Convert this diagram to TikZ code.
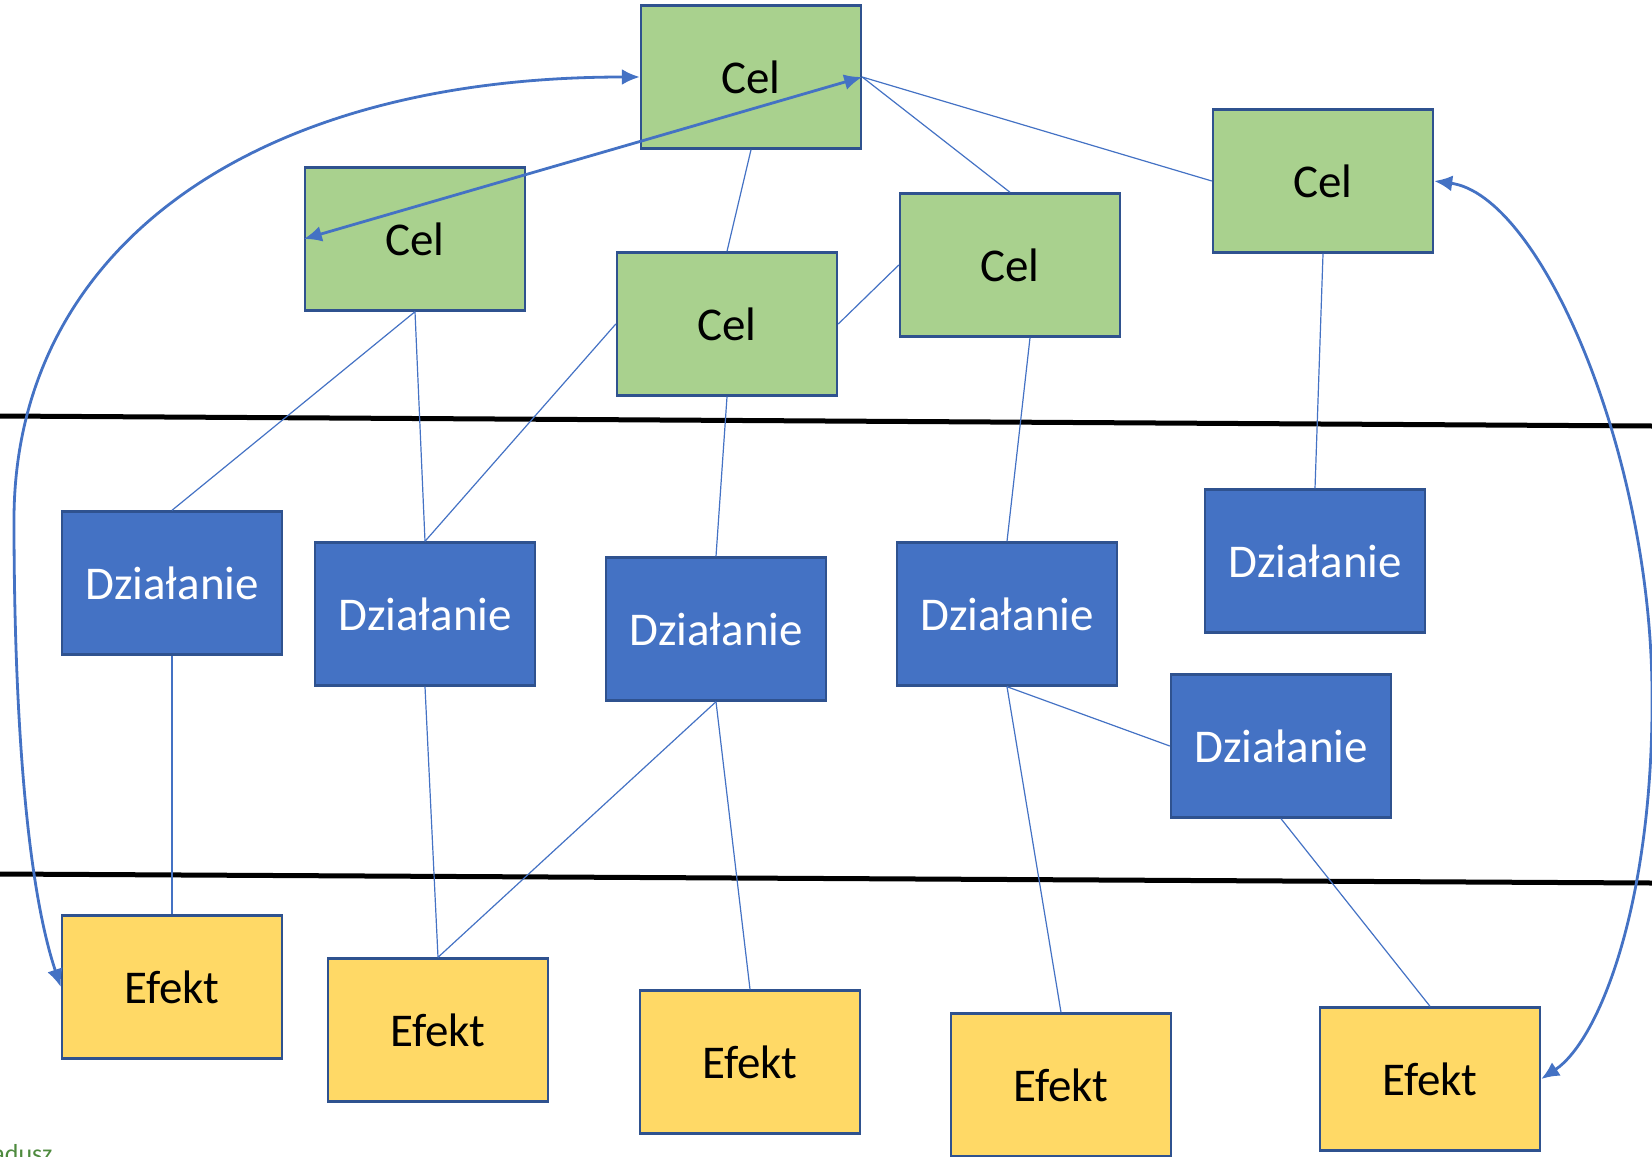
\documentclass[tikz,border=0pt]{standalone}
\usepackage{fontspec}
\setmainfont{Carlito}
\usetikzlibrary{arrows.meta}
\definecolor{celgreen}{HTML}{A9D18E}
\definecolor{dzblue}{HTML}{4472C4}
\definecolor{efyellow}{HTML}{FFD966}
\definecolor{ramka}{HTML}{2F528F}
\definecolor{stopka}{HTML}{4E8A3E}
\begin{document}
\begin{tikzpicture}[x=0.5pt,y=-0.5pt,
    pole/.style={draw=ramka,line width=1.2pt,minimum width=110pt,minimum height=71.5pt,
      inner sep=0pt,font=\fontsize{23.5}{28}\selectfont},
    cel/.style={pole,fill=celgreen,text=black},
    dzialanie/.style={pole,fill=dzblue,text=white},
    efekt/.style={pole,fill=efyellow,text=black},
    polaczenie/.style={draw=dzblue,line width=0.6pt},
    strzalka/.style={draw=dzblue,line width=1.4pt,{Latex[length=9pt,width=8pt]}-{Latex[length=9pt,width=8pt]}},
    granica/.style={draw=black,line width=2.5pt}]
        \useasboundingbox (0,0) rectangle (1652,1156);
        \clip (0,0) rectangle (1652,1156);
        \draw[granica] (0,416)--(1652,426);
        \draw[granica] (0,874)--(1652,883);
        \node[cel] (cel1) at (751,77) {Cel};
        \node[cel] (cel2) at (415,239) {Cel};
        \node[cel] (cel3) at (727,324) {Cel};
        \node[cel] (cel4) at (1010,265) {Cel};
        \node[cel] (cel5) at (1323,181) {Cel};
        \node[dzialanie] (dz1) at (172,583) {Działanie};
        \node[dzialanie] (dz2) at (425,614) {Działanie};
        \node[dzialanie] (dz3) at (716,629) {Działanie};
        \node[dzialanie] (dz4) at (1007,614) {Działanie};
        \node[dzialanie] (dz5) at (1315,561) {Działanie};
        \node[dzialanie] (dz6) at (1281,746) {Działanie};
        \node[efekt] (ef1) at (172,987) {Efekt};
        \node[efekt] (ef2) at (438,1030) {Efekt};
        \node[efekt] (ef3) at (750,1062) {Efekt};
        \node[efekt] (ef4) at (1061,1085) {Efekt};
        \node[efekt] (ef5) at (1430,1079) {Efekt};
        \node[anchor=north west,inner sep=0pt,text=stopka,font=\fontsize{13}{15}\selectfont] (stopka) at (-8,1144) {adusz};
        \draw[polaczenie] (cel1.south)--(cel3.north);
        \draw[polaczenie] (cel1.east)--(cel4.north);
        \draw[polaczenie] (cel1.east)--(cel5.west);
        \draw[polaczenie] (cel4.west)--(cel3.east);
        \draw[polaczenie] (cel2.south)--(dz1.north);
        \draw[polaczenie] (cel2.south)--(dz2.north);
        \draw[polaczenie] (cel3.west)--(dz2.north);
        \draw[polaczenie] (cel3.south)--(dz3.north);
        \draw[polaczenie] ([xshift=10pt]cel4.south)--(dz4.north);
        \draw[polaczenie] (cel5.south)--(dz5.north);
        \draw[polaczenie] (dz1.south)--(ef1.north);
        \draw[polaczenie] (dz2.south)--(ef2.north);
        \draw[polaczenie] (dz3.south)--(ef2.north);
        \draw[polaczenie] (dz3.south)--(ef3.north);
        \draw[polaczenie] (dz4.south)--(ef4.north);
        \draw[polaczenie] (dz4.south)--(dz6.west);
        \draw[polaczenie] (dz6.south)--(ef5.north);
        \draw[strzalka] (cel2.west)--(cel1.east);
        \draw[strzalka] (ef1.west) .. controls (25,880) and (14,700) .. (14,520) .. controls (14,250) and (250,77) .. (cel1.west);
        \draw[strzalka] (cel5.east) .. controls (1540,195) and (1650,450) .. (1652,690) .. controls (1654,900) and (1600,1040) .. (ef5.east);
    \end{tikzpicture}
\end{document}
